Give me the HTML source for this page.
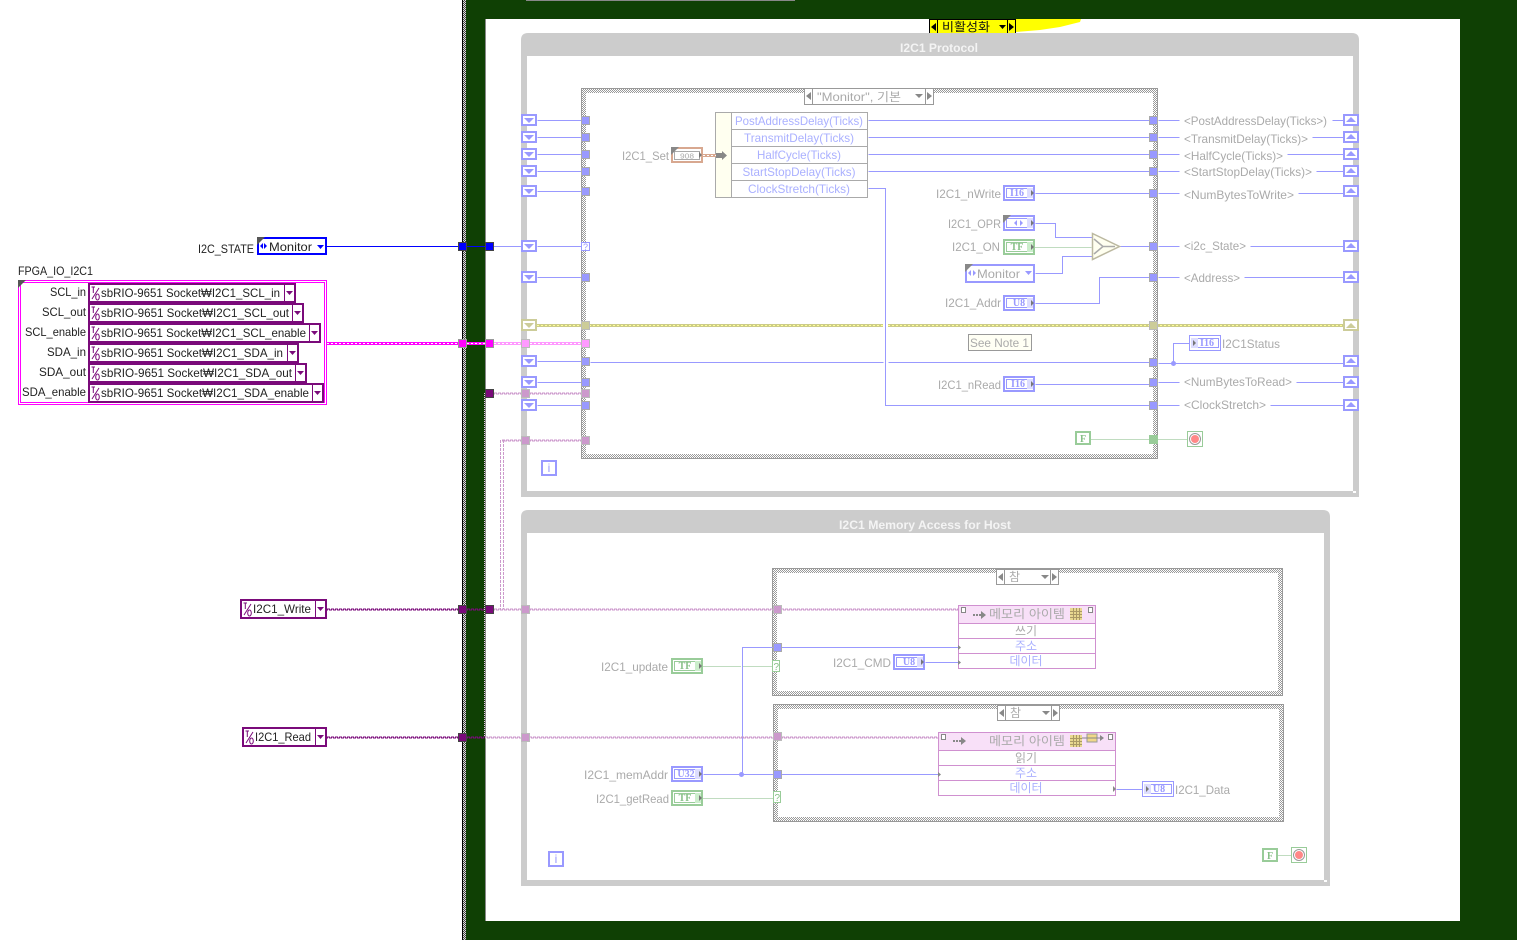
<!DOCTYPE html>
<html><head><meta charset="utf-8"><title>I2C1 block diagram</title>
<style>
html,body{margin:0;padding:0;background:#fff;width:1517px;height:940px;overflow:hidden}
svg{display:block}
text{font-family:"Liberation Sans","Noto Sans CJK KR",sans-serif;font-size:12px;fill:#aaa}
.d{fill:#222}
.b{fill:#aab0ff}
.r{text-anchor:end}
.c{text-anchor:middle}
.t{fill:#f4f4f4;font-weight:bold;text-anchor:middle}
.n{font-family:"Liberation Serif",serif;font-weight:bold;font-size:10px;fill:#99f;text-anchor:middle}
.g{fill:#88c088}
.k{fill:#111}
</style></head><body>
<svg width="1517" height="940" viewBox="0 0 1517 940" xmlns="http://www.w3.org/2000/svg">
<defs>
<pattern id="h" width="2" height="2" patternUnits="userSpaceOnUse"><rect width="2" height="2" fill="#fff"/><rect width="1" height="1" fill="#999"/><rect x="1" y="1" width="1" height="1" fill="#999"/></pattern>
<pattern id="h2" width="2" height="2" patternUnits="userSpaceOnUse"><rect width="2" height="2" fill="#ddd"/><rect width="1" height="1" fill="#444"/><rect x="1" y="1" width="1" height="1" fill="#444"/></pattern>
<g id="sd"><rect x="1" y="1" width="14" height="10" fill="#fff" stroke="#99f" stroke-width="2"/><polygon points="3,4 13,4 8,9" fill="#99f"/></g>
<g id="su"><rect x="1" y="1" width="14" height="10" fill="#fff" stroke="#99f" stroke-width="2"/><polygon points="3,8 13,8 8,3" fill="#99f"/></g>
<g id="tb"><rect x=".5" y=".5" width="8" height="8" fill="#99f" stroke="#aaa"/></g>
<g id="tp"><rect x=".5" y=".5" width="8" height="8" fill="#cc99cc" stroke="#bbb"/></g>
<g id="num"><rect x="1" y="1" width="30" height="14" fill="#fff" stroke="#99f" stroke-width="2"/><rect x="3.500" y="3.500" width="25" height="9" fill="#fff" stroke="#99f"/><rect x="24" y="3" width="6" height="10" fill="#ddf"/><polygon points="28,5 28,11 31,8" fill="#777"/></g>
<g id="tf"><rect x="1" y="1" width="30" height="14" fill="#fff" stroke="#99cc99" stroke-width="2"/><rect x="3.500" y="3.500" width="25" height="9" fill="#fff" stroke="#99cc99"/><rect x="24" y="3" width="6" height="10" fill="#cec"/><polygon points="28,5 28,11 31,8" fill="#777"/></g>
<g id="stop"><rect x=".5" y=".5" width="15" height="15" fill="#fff" stroke="#99cc99"/><circle cx="8" cy="8" r="5.500" fill="#fff" stroke="#999"/><circle cx="8" cy="8" r="4" fill="#ff8888"/></g>
<g id="io"><rect width="12" height="16" fill="#fff"/><path d="M1.500 2H5M3.300 2V8M2 14L9 3" stroke="#7a0a7a" fill="none"/><ellipse cx="7.500" cy="12" rx="1.800" ry="3" fill="none" stroke="#7a0a7a"/></g>
</defs>

<!-- backgrounds -->
<rect x="466" y="0" width="1051" height="940" fill="#0f4004"/>
<rect x="462" y="0" width="1" height="940" fill="#000"/>
<rect x="463" y="0" width="3" height="940" fill="url(#h2)"/>
<rect x="485" y="19" width="975" height="902" fill="#fff"/>
<rect x="485" y="19" width="1" height="902" fill="#888"/>
<rect x="526" y="0" width="269" height="1" fill="#888"/>
<polygon points="1016,19 1081,19 1080,22 1060,27 1040,30 1016,32" fill="#ffff00"/>

<!-- disable selector -->
<rect x="929" y="19" width="87" height="16" fill="#ffff00"/>
<rect x="929.500" y="19.500" width="86" height="15" fill="none" stroke="#000"/>
<path d="M937.500 20V35M1007.500 20V35" stroke="#000"/>
<polygon points="936,23 936,31 931,27" fill="#000"/><polygon points="1009,23 1009,31 1014,27" fill="#000"/>
<polygon points="999,25 1006,25 1002.500,29" fill="#000"/>
<text x="942" y="31" class="k" textLength="48" lengthAdjust="spacingAndGlyphs">비활성화</text>

<!-- frames -->
<path d="M521 497V40Q521 33 528 33H1352Q1359 33 1359 40V497H521Z M527 56V491H1353V56Z" fill="#ccc" fill-rule="evenodd"/>
<rect x="1353" y="491" width="3" height="2" fill="#fff"/>
<text x="939" y="52" class="t" textLength="78" lengthAdjust="spacingAndGlyphs">I2C1 Protocol</text>
<path d="M521 886V517Q521 510 528 510H1323Q1330 510 1330 517V886H521Z M527 533V880H1324V533Z" fill="#ccc" fill-rule="evenodd"/>
<rect x="1324" y="880" width="3" height="2" fill="#fff"/>
<text x="925" y="529" class="t" textLength="172" lengthAdjust="spacingAndGlyphs">I2C1 Memory Access for Host</text>

<!-- case structures -->
<rect x="581.500" y="88.500" width="576" height="370" fill="url(#h)" stroke="#999"/><rect x="586" y="93" width="567" height="361" fill="#fff"/>
<rect x="772.500" y="568.500" width="510" height="127" fill="url(#h)" stroke="#999"/><rect x="777" y="573" width="501" height="118" fill="#fff"/>
<rect x="773.500" y="704.500" width="510" height="117" fill="url(#h)" stroke="#999"/><rect x="778" y="709" width="501" height="108" fill="#fff"/>

<!-- case selectors -->
<g fill="#fff" stroke="#999">
<rect x="804.500" y="88.500" width="129" height="16"/><path d="M812.500 89V105M925.500 89V105" fill="none"/>
<rect x="996.500" y="569.500" width="62" height="15"/><path d="M1004.500 570V585M1050.500 570V585" fill="none"/>
<rect x="997.500" y="705.500" width="62" height="15"/><path d="M1005.500 706V721M1051.500 706V721" fill="none"/>
</g>
<g fill="#888">
<polygon points="811,92 811,100 806,96"/><polygon points="927,92 927,100 932,96"/><polygon points="915,94 923,94 919,98"/>
<polygon points="1003,573 1003,581 998,577"/><polygon points="1052,573 1052,581 1057,577"/><polygon points="1041,575 1049,575 1045,579"/>
<polygon points="1004,709 1004,717 999,713"/><polygon points="1053,709 1053,717 1058,713"/><polygon points="1042,711 1050,711 1046,715"/>
</g>
<text x="817" y="101" textLength="84" lengthAdjust="spacingAndGlyphs">"Monitor", 기본</text>
<text x="1009" y="581">참</text>
<text x="1010" y="717">참</text>

<!-- plain wires -->
<g transform="translate(.5,.5)" fill="none" stroke="#99f">
<path d="M537 120H581M537 137H581M537 154H581M537 171H581M537 191H581M537 246H581M537 277H581M537 361H581M537 382H581M537 405H581"/>
<path d="M590 362H883M888 362H1149"/>
<path d="M868 120H1149M868 137H1149M868 154H1149M868 171H1149"/>
<path d="M868 188H885V405H1149"/>
<path d="M1158 120H1179M1332 120H1343M1158 137H1179M1312 137H1343M1158 154H1179M1287 154H1343M1158 171H1179M1316 171H1343M1158 193H1179M1298 193H1343M1158 246H1179M1250 246H1343M1158 277H1179M1244 277H1343M1158 363H1343M1158 382H1179M1296 382H1343M1158 405H1179M1270 405H1343"/>
<path d="M1173 363V343H1189"/>
<path d="M1035 193H1149M1035 223H1055V237H1092M1035 273H1062V256H1092M1120 246H1149M1035 303H1099V277H1149M1035 384H1149"/>
<path d="M742 774V647H958M925 662H958"/>
<path d="M703 774H938M1116 789H1142"/>
</g>
<rect x="327" y="246" width="131" height="1" fill="#00f"/><rect x="467" y="246" width="18" height="1" fill="#00f"/><rect x="494" y="246" width="27" height="1" fill="#99f"/>
<circle cx="1173.500" cy="363.500" r="2.500" fill="#99f"/>
<circle cx="741.500" cy="774.500" r="2.500" fill="#99f"/>

<!-- dotted green wires -->
<g transform="translate(.5,.5)" fill="none" stroke="#80b880" stroke-dasharray="1 1">
<path d="M1035 247H1092M1091 439H1149M1158 439H1187M703 666H740M743 666H772M703 798H773M1278 855H1291"/>
</g>

<!-- thick wires -->
<g fill="none">
<path d="M537 325.500H883M888 325.500H1343" stroke="#cccc88" stroke-width="3"/>
<path d="M537 325.500H883M888 325.500H1343" stroke="#ffff99" stroke-dasharray="2 2"/>
<path d="M327 343.500H458M467 343.500H485" stroke="#ff00ff" stroke-width="3"/>
<path d="M327 343.500H458M467 343.500H485" stroke="#fff" stroke-dasharray="2 2"/>
<path d="M494 343.500H581" stroke="#ff99ff" stroke-width="3"/>
<path d="M494 343.500H581" stroke="#fff" stroke-dasharray="2 2"/>
<path d="M327 609H458M467 609H485M327 737H458M467 737H485" stroke="#7a0a7a" stroke-dasharray="3 1"/>
<path d="M327 610H458M467 610H485M327 738H458M467 738H485" stroke="#7a0a7a" stroke-dasharray="3 1" stroke-dashoffset="2"/>
<path d="M484.500 393V737" stroke="#e8c0e8" stroke-dasharray="1 1"/>
<path d="M494 393H581M502 440H581M494 609H773M781 609H958M485 737H773M782 737H938" stroke="#cc99cc" stroke-dasharray="3 1"/>
<path d="M494 394H581M502 441H581M494 610H773M781 610H958M485 738H773M782 738H938" stroke="#cc99cc" stroke-dasharray="3 1" stroke-dashoffset="2"/>
<path d="M500.500 440V609M503.500 440V609" stroke="#cc99cc" stroke-dasharray="3 1"/>
<path d="M703 155.500H717" stroke="#d8a890" stroke-width="3"/>
<path d="M703 155.500H717" stroke="#fff" stroke-dasharray="2 2"/>
</g>

<!-- edge terminals -->
<g stroke="#444">
<rect x="458.500" y="242.500" width="8" height="8" fill="#00f"/><rect x="485.500" y="242.500" width="8" height="8" fill="#00f"/>
<rect x="458.500" y="339.500" width="8" height="8" fill="#f0f" stroke="#999"/><rect x="485.500" y="339.500" width="8" height="8" fill="#f0f" stroke="#999"/>
<rect x="485.500" y="389.500" width="8" height="8" fill="#7a0a7a"/>
<rect x="458.500" y="605.500" width="8" height="8" fill="#7a0a7a"/><rect x="485.500" y="605.500" width="8" height="8" fill="#7a0a7a"/>
<rect x="458.500" y="733.500" width="8" height="8" fill="#7a0a7a"/>
</g>
<g fill="#cc99cc" stroke="#bbb">
<rect x="521.500" y="389.500" width="8" height="8"/><rect x="521.500" y="436.500" width="8" height="8"/><rect x="521.500" y="605.500" width="8" height="8"/><rect x="521.500" y="733.500" width="8" height="8"/>
</g>
<rect x="521.500" y="339.500" width="8" height="8" fill="#ff99ff" stroke="#bbb"/>

<!-- shift registers left -->
<use href="#sd" x="521" y="114"/><use href="#sd" x="521" y="131"/><use href="#sd" x="521" y="148"/><use href="#sd" x="521" y="165"/><use href="#sd" x="521" y="185"/><use href="#sd" x="521" y="240"/><use href="#sd" x="521" y="271"/><use href="#sd" x="521" y="355"/><use href="#sd" x="521" y="376"/><use href="#sd" x="521" y="399"/>
<rect x="522" y="320" width="14" height="10" fill="#fff" stroke="#cccc99" stroke-width="2"/><polygon points="524,323 534,323 529,328" fill="#cccc99"/>
<!-- shift registers right -->
<use href="#su" x="1343" y="114"/><use href="#su" x="1343" y="131"/><use href="#su" x="1343" y="148"/><use href="#su" x="1343" y="165"/><use href="#su" x="1343" y="185"/><use href="#su" x="1343" y="240"/><use href="#su" x="1343" y="271"/><use href="#su" x="1343" y="355"/><use href="#su" x="1343" y="376"/><use href="#su" x="1343" y="399"/>
<rect x="1344" y="320" width="14" height="10" fill="#fff" stroke="#cccc99" stroke-width="2"/><polygon points="1346,328 1356,328 1351,323" fill="#cccc99"/>

<!-- case terminals left -->
<use href="#tb" x="581" y="116"/><use href="#tb" x="581" y="133"/><use href="#tb" x="581" y="150"/><use href="#tb" x="581" y="167"/><use href="#tb" x="581" y="187"/><use href="#tb" x="581" y="273"/><use href="#tb" x="581" y="357"/><use href="#tb" x="581" y="378"/><use href="#tb" x="581" y="401"/>
<rect x="581.500" y="242.500" width="8" height="8" fill="#fff" stroke="#99f"/><text x="583" y="250" style="font-size:9px;fill:#99f">?</text>
<rect x="581.500" y="321.500" width="8" height="8" fill="#cccc99" stroke="#bbb"/>
<rect x="581.500" y="339.500" width="8" height="8" fill="#ff99ff" stroke="#bbb"/>
<use href="#tp" x="581" y="389"/><use href="#tp" x="581" y="436"/>
<!-- case terminals right -->
<use href="#tb" x="1149" y="116"/><use href="#tb" x="1149" y="133"/><use href="#tb" x="1149" y="150"/><use href="#tb" x="1149" y="167"/><use href="#tb" x="1149" y="189"/><use href="#tb" x="1149" y="242"/><use href="#tb" x="1149" y="273"/><use href="#tb" x="1149" y="358"/><use href="#tb" x="1149" y="378"/><use href="#tb" x="1149" y="401"/>
<rect x="1149.500" y="321.500" width="8" height="8" fill="#cccc99" stroke="#bbb"/>
<rect x="1149" y="435" width="9" height="9" fill="#99cc99"/>
<!-- memory case terminals -->
<use href="#tp" x="773" y="605"/><use href="#tb" x="773" y="643"/>
<rect x="772.500" y="660.500" width="7" height="11" fill="#fff" stroke="#99cc99"/><text x="773.500" y="670" class="g" style="font-size:10px">?</text>
<use href="#tp" x="773" y="732"/><use href="#tb" x="773" y="770"/>
<rect x="773.500" y="791.500" width="7" height="11" fill="#fff" stroke="#99cc99"/><text x="774.500" y="801" class="g" style="font-size:10px">?</text>

<!-- left: state control -->
<text x="254" y="253" class="d r" textLength="56" lengthAdjust="spacingAndGlyphs">I2C_STATE</text>
<rect x="258" y="238" width="68" height="16" fill="#fff" stroke="#00f" stroke-width="2"/>
<polygon points="257,237 265,237 257,245" fill="#555"/>
<polygon points="260,246 263,243 263,249" fill="#00f"/><polygon points="264,243 267,246 264,249" fill="#00f"/>
<text x="269" y="251" class="d" textLength="43" lengthAdjust="spacingAndGlyphs">Monitor</text>
<polygon points="317,245 324,245 320.500,249" fill="#00f"/>

<!-- left: cluster -->
<text x="18" y="275" class="d" textLength="75" lengthAdjust="spacingAndGlyphs">FPGA_IO_I2C1</text>
<rect x="18.500" y="280.500" width="308" height="124" fill="#fff" stroke="#f0f"/>
<rect x="20.500" y="282.500" width="304" height="120" fill="#fff" stroke="#f0f"/>
<polygon points="18,280 26,280 18,288" fill="#555"/>
<g fill="#fff" stroke="#7a0a7a" stroke-width="2">
<rect x="89" y="284" width="206" height="18"/><rect x="89" y="304" width="214" height="18"/><rect x="89" y="324" width="231" height="18"/><rect x="89" y="344" width="209" height="18"/><rect x="89" y="364" width="217" height="18"/><rect x="89" y="384" width="234" height="18"/>
</g>
<path d="M284.500 285V301M292.500 305V321M309.500 325V341M287.500 345V361M295.500 365V381M312.500 385V401" stroke="#7a0a7a"/>
<g fill="#7a0a7a"><polygon points="286,291 293,291 289.500,295"/><polygon points="294,311 301,311 297.500,315"/><polygon points="311,331 318,331 314.500,335"/><polygon points="289,351 296,351 292.500,355"/><polygon points="297,371 304,371 300.500,375"/><polygon points="314,391 321,391 317.500,395"/></g>
<use href="#io" x="90" y="285"/><use href="#io" x="90" y="305"/><use href="#io" x="90" y="325"/><use href="#io" x="90" y="345"/><use href="#io" x="90" y="365"/><use href="#io" x="90" y="385"/>
<text x="86" y="296" class="d r" textLength="36" lengthAdjust="spacingAndGlyphs">SCL_in</text>
<text x="86" y="316" class="d r" textLength="44" lengthAdjust="spacingAndGlyphs">SCL_out</text>
<text x="86" y="336" class="d r" textLength="61" lengthAdjust="spacingAndGlyphs">SCL_enable</text>
<text x="86" y="356" class="d r" textLength="39" lengthAdjust="spacingAndGlyphs">SDA_in</text>
<text x="86" y="376" class="d r" textLength="47" lengthAdjust="spacingAndGlyphs">SDA_out</text>
<text x="86" y="396" class="d r" textLength="64" lengthAdjust="spacingAndGlyphs">SDA_enable</text>
<text x="101" y="297" class="d" textLength="179" lengthAdjust="spacingAndGlyphs">sbRIO-9651 Socket₩I2C1_SCL_in</text>
<text x="101" y="317" class="d" textLength="188" lengthAdjust="spacingAndGlyphs">sbRIO-9651 Socket₩I2C1_SCL_out</text>
<text x="101" y="337" class="d" textLength="205" lengthAdjust="spacingAndGlyphs">sbRIO-9651 Socket₩I2C1_SCL_enable</text>
<text x="101" y="357" class="d" textLength="182" lengthAdjust="spacingAndGlyphs">sbRIO-9651 Socket₩I2C1_SDA_in</text>
<text x="101" y="377" class="d" textLength="191" lengthAdjust="spacingAndGlyphs">sbRIO-9651 Socket₩I2C1_SDA_out</text>
<text x="101" y="397" class="d" textLength="208" lengthAdjust="spacingAndGlyphs">sbRIO-9651 Socket₩I2C1_SDA_enable</text>

<!-- left: write/read -->
<rect x="241" y="600" width="85" height="18" fill="#fff" stroke="#7a0a7a" stroke-width="2"/><path d="M315.500 601V617" stroke="#7a0a7a"/><polygon points="317,607 324,607 320.500,611" fill="#7a0a7a"/><use href="#io" x="242" y="601"/>
<text x="253" y="613" class="d" textLength="58" lengthAdjust="spacingAndGlyphs">I2C1_Write</text>
<rect x="243" y="728" width="83" height="18" fill="#fff" stroke="#7a0a7a" stroke-width="2"/><path d="M315.500 729V745" stroke="#7a0a7a"/><polygon points="317,735 324,735 320.500,739" fill="#7a0a7a"/><use href="#io" x="244" y="729"/>
<text x="255" y="741" class="d" textLength="56" lengthAdjust="spacingAndGlyphs">I2C1_Read</text>

<!-- bundle -->
<rect x="715.500" y="112.500" width="152" height="85" fill="#fff" stroke="#aaa"/>
<rect x="716" y="113" width="15" height="84" fill="#fffff0"/>
<path d="M731.500 112V198M731 129.500H868M731 146.500H868M731 163.500H868M731 180.500H868" stroke="#aaa"/>
<text x="799" y="125" class="b c" textLength="128" lengthAdjust="spacingAndGlyphs">PostAddressDelay(Ticks)</text>
<text x="799" y="142" class="b c" textLength="110" lengthAdjust="spacingAndGlyphs">TransmitDelay(Ticks)</text>
<text x="799" y="159" class="b c" textLength="84" lengthAdjust="spacingAndGlyphs">HalfCycle(Ticks)</text>
<text x="799" y="176" class="b c" textLength="113" lengthAdjust="spacingAndGlyphs">StartStopDelay(Ticks)</text>
<text x="799" y="193" class="b c" textLength="102" lengthAdjust="spacingAndGlyphs">ClockStretch(Ticks)</text>
<path d="M703 155.500H717" stroke="#d8a890" stroke-width="3"/>
<path d="M703 155.500H717" stroke="#fff" stroke-dasharray="2 2"/>
<polygon points="716,153 722,153 722,151 727,155.500 722,160 722,158 716,158" fill="#888"/>

<!-- I2C1_Set -->
<text x="669" y="160" class="r" textLength="47" lengthAdjust="spacingAndGlyphs">I2C1_Set</text>
<rect x="672" y="148" width="30" height="14" fill="#fff" stroke="#d8a890" stroke-width="2"/>
<rect x="674.500" y="151.500" width="25" height="8" fill="#fff" stroke="#aaa"/>
<polygon points="671,147 679,147 671,155" fill="#888"/>
<polygon points="699,152 699,158 702,155" fill="#777"/>
<text x="687" y="158.500" class="c" style="font-size:7px" textLength="14" lengthAdjust="spacingAndGlyphs">908</text>

<!-- numeric controls protocol -->
<text x="1001" y="198" class="r" textLength="65" lengthAdjust="spacingAndGlyphs">I2C1_nWrite</text>
<use href="#num" x="1003" y="185"/><text x="1017" y="196" class="n">I16</text>
<text x="1001" y="228" class="r" textLength="53" lengthAdjust="spacingAndGlyphs">I2C1_OPR</text>
<use href="#num" x="1003" y="215"/><polygon points="1003,215 1011,215 1003,223" fill="#888"/>
<polygon points="1014,223 1017,220 1017,226" fill="#99f"/><polygon points="1020,220 1023,223 1020,226" fill="#99f"/>
<text x="1000" y="251" class="r" textLength="48" lengthAdjust="spacingAndGlyphs">I2C1_ON</text>
<use href="#tf" x="1003" y="239"/><text x="1017" y="250" class="n g">TF</text>
<rect x="966" y="265" width="68" height="17" fill="#fff" stroke="#99f" stroke-width="2"/>
<polygon points="965,264 973,264 965,272" fill="#888"/>
<polygon points="968,273 971,270 971,276" fill="#99f"/><polygon points="973,270 976,273 973,276" fill="#99f"/>
<text x="977" y="278" textLength="43" lengthAdjust="spacingAndGlyphs">Monitor</text>
<polygon points="1025,271 1032,271 1028.500,275" fill="#99f"/>
<text x="1001" y="307" class="r" textLength="56" lengthAdjust="spacingAndGlyphs">I2C1_Addr</text>
<use href="#num" x="1003" y="295"/><text x="1019" y="306" class="n">U8</text>
<text x="1001" y="389" class="r" textLength="63" lengthAdjust="spacingAndGlyphs">I2C1_nRead</text>
<use href="#num" x="1003" y="376"/><text x="1018" y="387" class="n">I16</text>

<!-- select -->
<polygon points="1092.500,233.500 1119.500,246.500 1092.500,259.500" fill="#fffff0" stroke="#bbb8a0" stroke-width="1.500"/>
<path d="M1094 239L1103 246.500L1094 254M1103 246.500H1115" fill="none" stroke="#aaa" stroke-width="1.500"/>

<!-- right labels -->
<text x="1184" y="125" textLength="143" lengthAdjust="spacingAndGlyphs">&lt;PostAddressDelay(Ticks&gt;)</text>
<text x="1184" y="143" textLength="124" lengthAdjust="spacingAndGlyphs">&lt;TransmitDelay(Ticks)&gt;</text>
<text x="1184" y="160" textLength="99" lengthAdjust="spacingAndGlyphs">&lt;HalfCycle(Ticks)&gt;</text>
<text x="1184" y="176" textLength="128" lengthAdjust="spacingAndGlyphs">&lt;StartStopDelay(Ticks)&gt;</text>
<text x="1184" y="199" textLength="110" lengthAdjust="spacingAndGlyphs">&lt;NumBytesToWrite&gt;</text>
<text x="1184" y="250" textLength="62" lengthAdjust="spacingAndGlyphs">&lt;i2c_State&gt;</text>
<text x="1184" y="282" textLength="56" lengthAdjust="spacingAndGlyphs">&lt;Address&gt;</text>
<text x="1184" y="386" textLength="108" lengthAdjust="spacingAndGlyphs">&lt;NumBytesToRead&gt;</text>
<text x="1184" y="409" textLength="82" lengthAdjust="spacingAndGlyphs">&lt;ClockStretch&gt;</text>

<!-- status indicator, note -->
<rect x="1189.500" y="335.500" width="31" height="15" fill="#fff" stroke="#99f"/><rect x="1192.500" y="338.500" width="26" height="9" fill="#fff" stroke="#99f"/><rect x="1191" y="338" width="7" height="10" fill="#ddf"/><polygon points="1193,340 1193,346 1196,343" fill="#777"/>
<text x="1207" y="346" class="n">I16</text>
<text x="1222" y="348" textLength="58" lengthAdjust="spacingAndGlyphs">I2C1Status</text>
<rect x="968.500" y="334.500" width="63" height="16" fill="#fffff4" stroke="#999"/>
<text x="970" y="347" textLength="59" lengthAdjust="spacingAndGlyphs">See Note 1</text>

<!-- F constants, stop, i -->
<rect x="1076" y="432" width="14" height="12" fill="#fff" stroke="#99cc99" stroke-width="2"/><text x="1083" y="442" class="n g">F</text>
<use href="#stop" x="1187" y="431"/>
<rect x="1263" y="849" width="14" height="12" fill="#fff" stroke="#99cc99" stroke-width="2"/><text x="1270" y="859" class="n g">F</text>
<use href="#stop" x="1291" y="847"/>
<rect x="542" y="461" width="14" height="14" fill="#fff" stroke="#99f" stroke-width="2"/><text x="549" y="472" class="c" style="fill:#99f">i</text>
<rect x="549" y="852" width="14" height="14" fill="#fff" stroke="#99f" stroke-width="2"/><text x="556" y="863" class="c" style="fill:#99f">i</text>

<!-- write memory node -->
<rect x="958.500" y="605.500" width="137" height="63" fill="#fff" stroke="#d090d0"/>
<rect x="959" y="606" width="136" height="17" fill="#f8e0f8"/>
<path d="M958 623.500H1096M958 638.500H1096M958 653.500H1096" stroke="#d090d0"/>
<text x="989" y="618" textLength="76" lengthAdjust="spacingAndGlyphs">메모리 아이템</text>
<path d="M973 615H982" stroke="#888" stroke-width="2" stroke-dasharray="2 1"/><polygon points="981,611 986,615 981,619" fill="#888"/>
<rect x="1070" y="608" width="12" height="12" fill="#e8d890"/><path d="M1073.500 608V620M1076.500 608V620M1079.500 608V620M1070 611.500H1082M1070 614.500H1082M1070 617.500H1082" stroke="#aa9966"/>
<rect x="961.500" y="607.500" width="4" height="5" fill="#fff" stroke="#888"/><rect x="1088.500" y="607.500" width="4" height="5" fill="#fff" stroke="#888"/>
<text x="1026" y="635" class="c">쓰기</text>
<text x="1026" y="650" class="c b">주소</text>
<text x="1026" y="665" class="c b">데이터</text>
<polygon points="958,645 958,650 961,647.500" fill="#888"/><polygon points="958,660 958,665 961,662.500" fill="#888"/>

<text x="668" y="671" class="r" textLength="67" lengthAdjust="spacingAndGlyphs">I2C1_update</text>
<use href="#tf" x="671" y="658"/><text x="685" y="669" class="n g">TF</text>
<text x="891" y="667" class="r" textLength="58" lengthAdjust="spacingAndGlyphs">I2C1_CMD</text>
<use href="#num" x="893" y="654"/><text x="909" y="665" class="n">U8</text>

<!-- read memory node -->
<rect x="938.500" y="732.500" width="177" height="63" fill="#fff" stroke="#d090d0"/>
<rect x="939" y="733" width="176" height="17" fill="#f8e0f8"/>
<path d="M938 750.500H1116M938 765.500H1116M938 780.500H1116" stroke="#d090d0"/>
<text x="989" y="745" textLength="76" lengthAdjust="spacingAndGlyphs">메모리 아이템</text>
<path d="M953 741H962" stroke="#888" stroke-width="2" stroke-dasharray="2 1"/><polygon points="961,737 966,741 961,745" fill="#888"/>
<rect x="1070" y="735" width="12" height="12" fill="#e8d890"/><path d="M1073.500 735V747M1076.500 735V747M1079.500 735V747M1070 738.500H1082M1070 741.500H1082M1070 744.500H1082" stroke="#aa9966"/>
<rect x="1087" y="734" width="10" height="8" fill="#f0d888" stroke="#999"/><path d="M1082 738H1103" stroke="#888"/><polygon points="1100,735 1104,738 1100,741" fill="#888"/>
<rect x="941.500" y="734.500" width="4" height="5" fill="#fff" stroke="#888"/><rect x="1108.500" y="734.500" width="4" height="5" fill="#fff" stroke="#888"/>
<text x="1026" y="762" class="c">읽기</text>
<text x="1026" y="777" class="c b">주소</text>
<text x="1026" y="792" class="c b">데이터</text>
<polygon points="938,772 938,777 941,774.500" fill="#888"/><polygon points="1113,786 1113,792 1116,789" fill="#888"/>

<text x="668" y="779" class="r" textLength="84" lengthAdjust="spacingAndGlyphs">I2C1_memAddr</text>
<use href="#num" x="671" y="766"/><text x="686" y="777" class="n">U32</text>
<text x="669" y="803" class="r" textLength="73" lengthAdjust="spacingAndGlyphs">I2C1_getRead</text>
<use href="#tf" x="671" y="790"/><text x="685" y="801" class="n g">TF</text>
<rect x="1142.500" y="781.500" width="31" height="15" fill="#fff" stroke="#99f"/><rect x="1145.500" y="784.500" width="26" height="9" fill="#fff" stroke="#99f"/><rect x="1144" y="784" width="7" height="10" fill="#ddf"/><polygon points="1146,786 1146,792 1149,789" fill="#777"/>
<text x="1159" y="792" class="n">U8</text>
<text x="1175" y="794" textLength="55" lengthAdjust="spacingAndGlyphs">I2C1_Data</text>
</svg>
</body></html>
